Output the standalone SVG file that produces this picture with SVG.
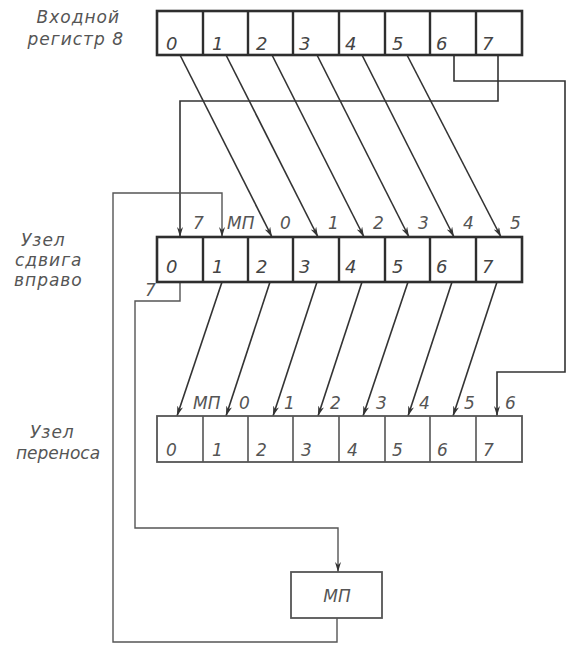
<svg xmlns="http://www.w3.org/2000/svg" width="584" height="654" viewBox="0 0 584 654">
<style>
.reg{fill:#fff;stroke:#2e2e2e;stroke-width:2.6}
.regl{fill:#fff;stroke:#555;stroke-width:1.8}
.div{stroke:#2e2e2e;stroke-width:2.4}
.divl{stroke:#555;stroke-width:1.6}
.w{fill:none;stroke:#333;stroke-width:1.6}
.wl{fill:none;stroke:#555;stroke-width:1.4}
text{font-family:"DejaVu Sans","Liberation Sans",sans-serif;font-style:italic;fill:#444}
.d{font-size:18px}
.s{font-size:16px;fill:#555}
.c{font-size:17px;fill:#555}
.lab{font-size:17px;fill:#555;letter-spacing:1px}
</style>
<defs>
<marker id="ah" viewBox="0 0 10 6" refX="10" refY="3" markerWidth="10" markerHeight="6" markerUnits="userSpaceOnUse" orient="auto">
<path d="M0,0 L10,3 L0,6 L3,3 Z" fill="#333"/>
</marker>
</defs>
<rect width="584" height="654" fill="#fff"/>

<g id="label-input">
<text class="lab" x="120" y="23" text-anchor="end">Входной</text>
<text class="lab" x="124" y="45" text-anchor="end">регистр 8</text>
</g>
<g id="label-shift">
<text class="lab" x="21" y="246">Узел</text>
<text class="lab" x="15" y="266">сдвига</text>
<text class="lab" x="14" y="286">вправо</text>
</g>
<g id="label-carry">
<text class="lab" x="30" y="438">Узел</text>
<text class="lab" x="16" y="459" style="letter-spacing:0">переноса</text>
</g>

<g id="connectors">
<line class="w" x1="180" y1="55" x2="272" y2="237" marker-end="url(#ah)"/>
<line class="w" x1="226" y1="55" x2="318" y2="237" marker-end="url(#ah)"/>
<line class="w" x1="272" y1="55" x2="364" y2="237" marker-end="url(#ah)"/>
<line class="w" x1="317" y1="55" x2="409" y2="237" marker-end="url(#ah)"/>
<line class="w" x1="362" y1="55" x2="454" y2="237" marker-end="url(#ah)"/>
<line class="w" x1="407" y1="55" x2="501" y2="237" marker-end="url(#ah)"/>
<polyline class="w" points="498,55 498,101 180,101 180,237" marker-end="url(#ah)"/>
<polyline class="w" points="454,55 454,81 565,81 565,372 497,372 497,416" marker-end="url(#ah)"/>
<polyline class="wl" points="337,618 337,642 113,642 113,193 222,193 222,237" marker-end="url(#ah)"/>
<polyline class="wl" points="180,282 180,301 135,301 135,528 338,528 338,572" marker-end="url(#ah)"/>
<line class="w" x1="222" y1="282" x2="177" y2="416" marker-end="url(#ah)"/>
<line class="w" x1="270" y1="282" x2="226" y2="416" marker-end="url(#ah)"/>
<line class="w" x1="317" y1="282" x2="273" y2="416" marker-end="url(#ah)"/>
<line class="w" x1="362" y1="282" x2="318" y2="416" marker-end="url(#ah)"/>
<line class="w" x1="408" y1="282" x2="363" y2="416" marker-end="url(#ah)"/>
<line class="w" x1="452" y1="282" x2="408" y2="416" marker-end="url(#ah)"/>
<line class="w" x1="497" y1="282" x2="453" y2="416" marker-end="url(#ah)"/>
<text class="c" x="193" y="229">7</text>
<text class="c" x="227" y="229">МП</text>
<text class="c" x="280" y="229">0</text>
<text class="c" x="328" y="229">1</text>
<text class="c" x="373" y="229">2</text>
<text class="c" x="418" y="229">3</text>
<text class="c" x="463" y="229">4</text>
<text class="c" x="510" y="229">5</text>
<text class="c" x="145" y="296">7</text>
<text class="c" x="193" y="409">МП</text>
<text class="c" x="239" y="409">0</text>
<text class="c" x="284" y="409">1</text>
<text class="c" x="330" y="409">2</text>
<text class="c" x="376" y="409">3</text>
<text class="c" x="419" y="409">4</text>
<text class="c" x="464" y="409">5</text>
<text class="c" x="505" y="409">6</text>
</g>

<g id="input-register">
<rect class="reg" x="157" y="11" width="365" height="44"/>
<path class="div" d="M203,11V55M248,11V55M293,11V55M339,11V55M385,11V55M430,11V55M476,11V55"/>
<text class="d" x="166" y="50">0</text>
<text class="d" x="212" y="50">1</text>
<text class="d" x="256" y="50">2</text>
<text class="d" x="299" y="50">3</text>
<text class="d" x="345" y="50">4</text>
<text class="d" x="392" y="50">5</text>
<text class="d" x="436" y="50">6</text>
<text class="d" x="482" y="50">7</text>
</g>

<g id="shift-node">
<rect class="reg" x="157" y="237" width="365" height="45"/>
<path class="div" d="M203,237V282M248,237V282M293,237V282M339,237V282M385,237V282M430,237V282M476,237V282"/>
<text class="d" x="166" y="273">0</text>
<text class="d" x="212" y="273">1</text>
<text class="d" x="256" y="273">2</text>
<text class="d" x="299" y="273">3</text>
<text class="d" x="345" y="273">4</text>
<text class="d" x="392" y="273">5</text>
<text class="d" x="436" y="273">6</text>
<text class="d" x="482" y="273">7</text>
</g>

<g id="carry-node">
<rect class="regl" x="157" y="416" width="365" height="46"/>
<path class="divl" d="M203,416V462M248,416V462M293,416V462M339,416V462M385,416V462M430,416V462M476,416V462"/>
<text class="c" x="166" y="456">0</text>
<text class="c" x="212" y="456">1</text>
<text class="c" x="256" y="456">2</text>
<text class="c" x="301" y="456">3</text>
<text class="c" x="347" y="456">4</text>
<text class="c" x="392" y="456">5</text>
<text class="c" x="437" y="456">6</text>
<text class="c" x="483" y="456">7</text>
</g>

<g id="mp">
<rect class="regl" x="291" y="572" width="91" height="46" stroke-width="2"/>
<text class="c" x="337" y="602" text-anchor="middle">МП</text>
</g>
</svg>
